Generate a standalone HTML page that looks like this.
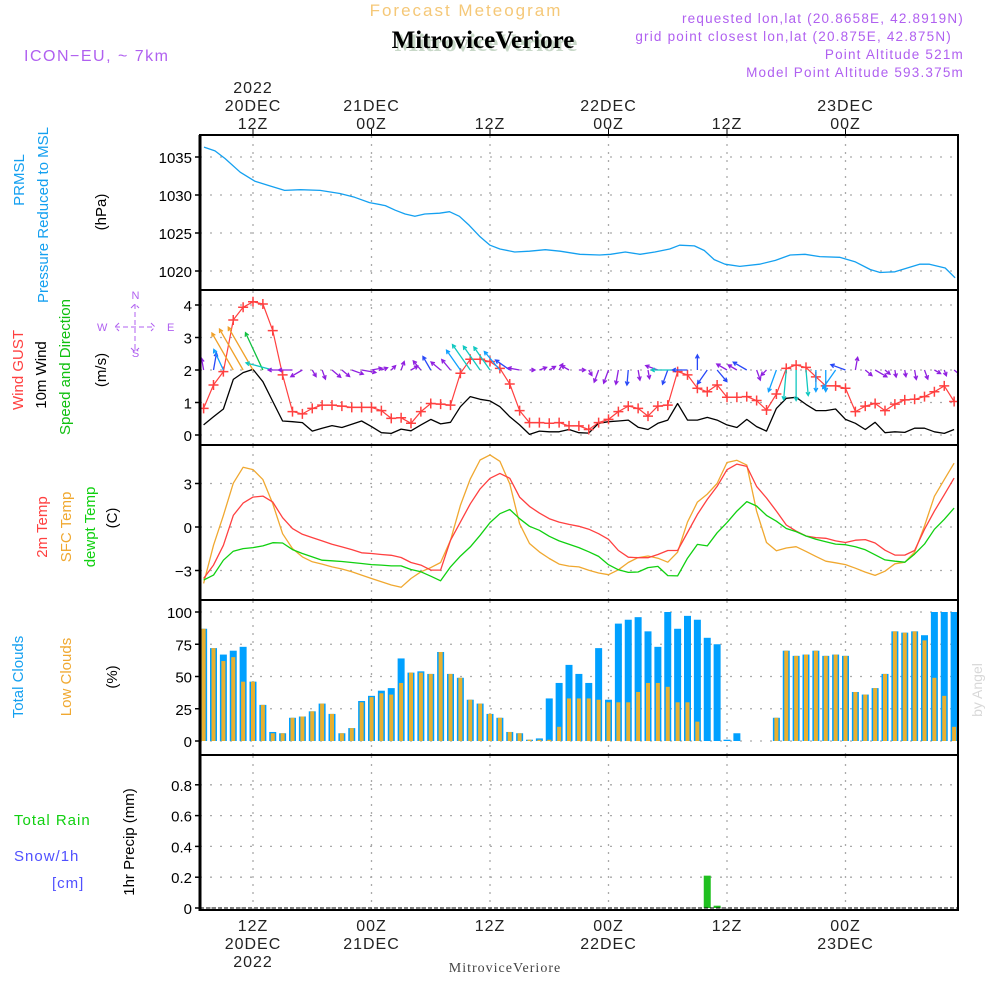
<!DOCTYPE html>
<html><head><meta charset="utf-8"><title>Forecast Meteogram MitroviceVeriore</title>
<style>
html,body{margin:0;padding:0;background:#fff;}
svg{display:block;font-family:"Liberation Sans",sans-serif;}
</style></head>
<body>
<svg id="chart" width="1000" height="1000" viewBox="0 0 1000 1000" xmlns="http://www.w3.org/2000/svg">
<defs>
<clipPath id="clipP"><rect x="200" y="136" width="758" height="154"/></clipPath>
<clipPath id="clipW"><rect x="200" y="291" width="758" height="154"/></clipPath>
<clipPath id="clipT"><rect x="200" y="446" width="758" height="154"/></clipPath>
<clipPath id="clipC"><rect x="200" y="601" width="758" height="154"/></clipPath>
<clipPath id="clipR"><rect x="200" y="756" width="758" height="154"/></clipPath>
</defs>
<g>
<text x="466" y="16" font-size="17" fill="#f5c878" text-anchor="middle" letter-spacing="2">Forecast Meteogram</text>
<text x="486" y="51" font-size="25" font-weight="bold" font-family="Liberation Serif, serif" fill="#c8d8c8" text-anchor="middle">MitroviceVeriore</text>
<text x="483" y="48" font-size="25" font-weight="bold" font-family="Liberation Serif, serif" fill="#000" text-anchor="middle">MitroviceVeriore</text>
<text x="24" y="61" font-size="16" fill="#b060f0" letter-spacing="1.5">ICON−EU, ~ 7km</text>
<text x="964" y="23" font-size="13.5" fill="#b060f0" text-anchor="end" letter-spacing="1.2">requested lon,lat (20.8658E, 42.8919N)</text>
<text x="952" y="41" font-size="13.5" fill="#b060f0" text-anchor="end" letter-spacing="1.2">grid point closest lon,lat (20.875E, 42.875N)</text>
<text x="964" y="59" font-size="13.5" fill="#b060f0" text-anchor="end" letter-spacing="1.2">Point Altitude 521m</text>
<text x="964" y="77" font-size="13.5" fill="#b060f0" text-anchor="end" letter-spacing="1.2">Model Point Altitude 593.375m</text>
</g>
<g id="grid"></g>
<g id="marks"></g>
<g id="frame"></g>
<g id="labels"></g>
</svg>
<script>
const hours = [];
for (let t = 7; t <= 83; t++) hours.push(t);

const presTimes = [7.04,8.15,9.16,10.7,12.2,13.7,15.2,16.8,18.8,20.8,22.3,23.8,25.4,26.4,27.4,28.4,29.4,30.9,31.9,32.9,33.9,35,36,37,38.5,40,41.6,43.1,45.1,47.1,48.2,49.7,51.2,52.7,54.2,55.2,56.7,57.7,58.7,59.8,61.3,63.3,64.9,66.4,67.9,69.4,71.4,73,74.5,75.5,77,78,79.5,80.5,82.1,83.1];
const presVals = [1036.3,1035.8,1034.8,1033,1031.8,1031.2,1030.6,1030.7,1030.6,1030.2,1029.7,1029,1028.6,1028,1027.5,1027.2,1027.5,1027.6,1027.8,1027.2,1026,1024.5,1023.4,1022.9,1022.5,1022.6,1022.8,1022.6,1022.2,1022.1,1022.2,1022.5,1022.2,1022.5,1022.9,1023.4,1023.3,1022.7,1021.5,1020.9,1020.6,1020.9,1021.4,1022.1,1022.2,1021.9,1021.8,1021.2,1020.2,1019.8,1019.9,1020.3,1020.9,1020.9,1020.4,1019.1];

const gustVals = [0.82,1.54,1.95,3.54,3.93,4.10,4.03,3.21,1.85,0.72,0.65,0.82,0.92,0.92,0.89,0.85,0.85,0.85,0.75,0.51,0.53,0.36,0.72,0.97,0.95,0.92,1.90,2.33,2.33,2.26,2.05,1.57,0.75,0.38,0.38,0.36,0.38,0.28,0.28,0.17,0.38,0.48,0.72,0.89,0.82,0.58,0.89,0.92,1.95,1.85,1.44,1.33,1.54,1.16,1.16,1.18,1.06,0.77,1.26,2.05,2.15,2.08,1.79,1.51,1.51,1.44,0.72,0.89,0.97,0.75,0.95,1.08,1.10,1.18,1.33,1.51,1.03];

const windVals = [0.31,0.56,0.80,1.71,1.92,2.02,1.64,1.03,0.43,0.41,0.38,0.12,0.21,0.29,0.23,0.33,0.43,0.26,0.07,0.05,0.18,0.13,0.31,0.48,0.34,0.39,0.87,1.18,1.10,1.05,0.87,0.56,0.31,0.02,0.12,0.10,0.10,0.17,0.07,0.06,0.36,0.41,0.43,0.46,0.24,0.17,0.36,0.46,0.97,0.46,0.46,0.54,0.46,0.31,0.23,0.48,0.26,0.12,0.82,1.13,1.16,0.94,0.75,0.75,0.80,0.48,0.36,0.17,0.39,0.07,0.10,0.08,0.21,0.21,0.10,0.05,0.17];

const windDir = [350,10,335,330,330,330,335,285,270,270,240,150,160,130,130,110,100,80,70,45,20,60,320,330,310,320,325,325,325,325,320,305,280,90,70,60,30,300,90,150,200,200,190,185,170,170,290,200,270,270,0,215,140,300,300,300,160,225,200,185,180,175,180,180,215,290,10,130,120,130,170,170,170,160,120,160,130];

const temp2m = [-3.55,-2.63,-1.26,0.8,1.65,2.06,2.13,1.72,0.64,-0.11,-0.5,-0.73,-0.96,-1.19,-1.37,-1.56,-1.78,-1.83,-1.9,-1.95,-2.1,-2.45,-2.63,-2.97,-2.97,-0.92,0.34,1.6,2.63,3.36,3.7,3.36,2.06,1.42,0.96,0.57,0.34,0.18,0.05,-0.15,-0.46,-0.85,-1.62,-2.08,-2.12,-2.12,-1.9,-1.62,-1.62,-0.38,0.87,1.9,2.8,3.95,4.34,4.18,2.8,2.0,1.1,0.14,-0.28,-0.62,-0.73,-0.78,-0.96,-1.07,-0.91,-0.87,-1.1,-1.6,-1.94,-1.94,-1.62,-0.16,1.1,2.23,3.37];

const tempSfc = [-3.89,-1.26,0.8,3.02,4.12,3.96,3.27,1.6,-0.46,-1.49,-2.06,-2.4,-2.56,-2.75,-2.9,-3.09,-3.32,-3.55,-3.78,-4.0,-4.16,-3.55,-3.09,-2.8,-2.45,-0.92,1.49,3.32,4.62,4.97,4.53,2.97,0.23,-1.14,-1.72,-2.17,-2.56,-2.7,-2.75,-2.98,-3.17,-3.29,-2.95,-2.45,-2.11,-2.0,-2.15,-2.43,-1.74,0.34,1.72,2.27,3.0,4.45,4.6,4.27,1.09,-1.07,-1.64,-1.45,-1.36,-1.68,-2.03,-2.36,-2.47,-2.59,-2.84,-3.11,-3.34,-3.05,-2.54,-2.43,-1.74,0.07,2.12,3.27,4.4];

const tempDew = [-3.66,-3.32,-2.29,-1.67,-1.49,-1.42,-1.3,-1.08,-1.1,-1.56,-1.83,-2.06,-2.29,-2.33,-2.38,-2.45,-2.52,-2.59,-2.63,-2.68,-2.68,-2.93,-3.09,-3.39,-3.71,-2.75,-2.01,-1.37,-0.57,0.3,0.92,1.21,0.57,0.05,-0.23,-0.64,-0.96,-1.19,-1.42,-1.71,-2.03,-2.6,-2.95,-3.13,-3.1,-2.8,-2.72,-3.35,-3.37,-2.15,-1.2,-1.3,-0.4,0.3,1.1,1.75,1.45,0.8,0.4,-0.1,-0.32,-0.62,-0.85,-1.02,-1.18,-1.22,-1.36,-1.57,-1.92,-2.27,-2.36,-2.43,-1.87,-1.18,-0.16,0.53,1.3];

const totalClouds = [87,72,67,70,73,46,28,7,6,18,19,23,29,21,6,10,31,35,39,41,64,53,54,52,69,52,49,32,29,21,18,7,6,1,2,33,45,59,52,45,72,32,91,94,96,85,73,100,87,97,94,80,75,1,6,0,0,0,18,70,66,67,70,66,67,66,38,36,41,52,85,84,85,82,100,100,100];
const lowClouds = [87,72,62,65,46,46,28,6,6,18,19,23,29,21,6,10,30,34,37,36,45,53,53,52,69,52,49,32,29,21,18,7,6,1,1,1,11,33,33,33,32,30,30,30,38,45,45,42,30,30,15,0,0,0,0,0,0,0,18,70,66,67,70,66,67,66,38,36,41,52,85,84,85,78,49,35,11];

const precipVals = new Array(77).fill(0);
precipVals[51] = 0.21;
precipVals[52] = 0.015;

const timeTicks = [12,24,36,48,60,72];
const presTicks = [1020,1025,1030,1035];
const windTicks = [0,1,2,3,4];
const tempTicks = [-3,0,3];
const cloudTicks = [0,25,50,75,100];
const precipTicks = [0,0.2,0.4,0.6,0.8];
const topDayLabels = [["2022","20DEC","12Z"],["","21DEC","00Z"],["","","12Z"],["","22DEC","00Z"],["","","12Z"],["","23DEC","00Z"]];
const bottomDayLabels = [["12Z","20DEC","2022"],["00Z","21DEC",""],["12Z","",""],["00Z","22DEC",""],["12Z","",""],["00Z","23DEC",""]];

const X0 = 200, X1 = 958;
const xT = t => 253 + (t - 12) * 9.875;
const yP = v => 271 - (v - 1020) * 7.6;
const yW = v => 435 - v * 32.5;
const yTe = v => 527 - v * 14.5;
const yC = v => 741 - v * 1.29;
const yR = v => 908 - v * 154;

const NS = "http://www.w3.org/2000/svg";
function mk(tag, attrs, parent) {
  const e = document.createElementNS(NS, tag);
  for (const k in attrs) e.setAttribute(k, attrs[k]);
  parent.appendChild(e);
  return e;
}
const grid = document.getElementById("grid");
const marks = document.getElementById("marks");
const frame = document.getElementById("frame");
const labels = document.getElementById("labels");

const panels = [
  {top:136, bot:290, ticks:presTicks, f:yP, fmt:v=>String(v), name:"pressure"},
  {top:291, bot:445, ticks:windTicks, f:yW, fmt:v=>String(v), name:"wind"},
  {top:446, bot:600, ticks:tempTicks, f:yTe, fmt:v=>v<0?"−"+(-v):String(v), name:"temperature"},
  {top:601, bot:755, ticks:cloudTicks, f:yC, fmt:v=>String(v), name:"clouds"},
  {top:756, bot:910, ticks:precipTicks, f:yR, fmt:v=>v===0?"0":v.toFixed(1), name:"precip"}
];

panels.forEach(p => {
  timeTicks.forEach(t => {
    const l = mk("line", {x1:xT(t), x2:xT(t), y1:p.top, y2:p.bot, stroke:"#aaa", "stroke-width":1.3, "stroke-dasharray":"2,6"}, grid);
    
    
  });
  p.ticks.forEach(v => {
    const y = p.f(v);
    const l = mk("line", {x1:X0, x2:X1, y1:y, y2:y, stroke:"#aaa", "stroke-width":1.3, "stroke-dasharray":"2,8"}, grid);
    
    
    const tk = mk("line", {x1:X0-5, x2:X0, y1:y, y2:y, stroke:"#000", "stroke-width":1.5}, frame);
    
    
    const tx = mk("text", {x:X0-8, y:y+6, "font-size":15, "text-anchor":"end", fill:"#000"}, labels);
    tx.textContent = p.fmt(v);
    
    
  });
  const r = mk("rect", {x:X0, y:p.top-1, width:X1-X0, height:p.bot-p.top+1, fill:"none", stroke:"#000", "stroke-width":2}, frame);
  
  
});
const lb = mk("line", {x1:X0, x2:X0, y1:135, y2:911, stroke:"#000", "stroke-width":3}, frame);



timeTicks.forEach((t, i) => {
  const x = xT(t);
  const tt = mk("line", {x1:x, x2:x, y1:129, y2:135, stroke:"#000", "stroke-width":1}, frame);
  
  
  topDayLabels[i].forEach((s, j) => {
    if (!s) return;
    const e = mk("text", {x:x, y:93 + j*18, "font-size":16, "text-anchor":"middle", fill:"#222", "letter-spacing":1}, labels);
    e.textContent = s;
    
    
  });
  bottomDayLabels[i].forEach((s, j) => {
    if (!s) return;
    const e = mk("text", {x:x, y:931 + j*18, "font-size":16, "text-anchor":"middle", fill:"#222", "letter-spacing":1}, labels);
    e.textContent = s;
    
    
  });
});

function poly(ts, vs, f, color, clip, name, w) {
  const pts = ts.map((t, i) => xT(t).toFixed(1) + "," + f(vs[i]).toFixed(1)).join(" ");
  const e = mk("polyline", {points:pts, fill:"none", stroke:color, "stroke-width":w||1.3, "stroke-linejoin":"round", "clip-path":"url(#"+clip+")"}, marks);
  
  
  return e;
}

poly(presTimes, presVals, yP, "#14a0f0", "clipP", "pressure-line", 1.3);

poly(hours, gustVals, yW, "#ff4040", "clipW", "wind-gust-line", 1.2);
poly(hours, windVals, yW, "#000", "clipW", "wind-speed-line", 1.3);
const gg = mk("g", {"clip-path":"url(#clipW)"}, marks);


hours.forEach((t, i) => {
  const x = xT(t), y = yW(gustVals[i]);
  const m = mk("path", {d:`M${x-5},${y}H${x+5}M${x},${y-5}V${y+5}`, stroke:"#ff4040", "stroke-width":1.5}, gg);
  
  
});

function windColor(s) {
  if (s < 0.45) return "#9020e0";
  if (s < 0.7) return "#2848f8";
  if (s < 0.9) return "#10a0ff";
  if (s < 1.25) return "#10c8c0";
  if (s < 1.65) return "#10c040";
  return "#f0a028";
}
const ga = mk("g", {"clip-path":"url(#clipW)"}, marks);


hours.forEach((t, i) => {
  const s = windVals[i], len = 5 + 22 * s, a = windDir[i] * Math.PI / 180;
  const x0 = xT(t), y0 = yW(2);
  const x1 = x0 + Math.sin(a) * len, y1 = y0 - Math.cos(a) * len;
  const h = 4, b1 = a + Math.PI - 0.5, b2 = a + Math.PI + 0.5;
  const d = `M${x0},${y0}L${x1},${y1}M${x1+Math.sin(b1)*h},${y1-Math.cos(b1)*h}L${x1},${y1}L${x1+Math.sin(b2)*h},${y1-Math.cos(b2)*h}`;
  const e = mk("path", {d:d, stroke:windColor(s), "stroke-width":1.3, fill:"none"}, ga);
  
  
});

poly(hours, tempSfc, yTe, "#f0a830", "clipT", "sfc-temp-line", 1.3);
poly(hours, temp2m, yTe, "#ff4040", "clipT", "2m-temp-line", 1.3);
poly(hours, tempDew, yTe, "#10d010", "clipT", "dewpoint-line", 1.3);

const gc = mk("g", {"clip-path":"url(#clipC)"}, marks);


hours.forEach((t, i) => {
  const x = xT(t);
  const b = mk("rect", {x:x-3.5, y:yC(totalClouds[i]), width:7, height:yC(0)-yC(totalClouds[i]), fill:"#00a0ff"}, gc);
  
  
  const o = mk("rect", {x:x-2, y:yC(lowClouds[i]), width:4, height:yC(0)-yC(lowClouds[i]), fill:"#e8b030"}, gc);
  
  
});

const gr = mk("g", {"clip-path":"url(#clipR)"}, marks);


hours.forEach((t, i) => {
  if (precipVals[i] <= 0) return;
  const x = xT(t);
  const b = mk("rect", {x:x-3.5, y:yR(precipVals[i]), width:7, height:yR(0)-yR(precipVals[i]), fill:"#20c020"}, gr);
  
  
});
const zl = mk("line", {x1:X0, x2:X1, y1:yR(0), y2:yR(0), stroke:"#000", "stroke-width":1, "stroke-dasharray":"4,2"}, marks);



function rtext(x, y, s, color, name, size) {
  const e = mk("text", {x:0, y:0, transform:`translate(${x},${y}) rotate(-90)`, "font-size":size||15, fill:color, "text-anchor":"middle"}, labels);
  e.textContent = s;
  
  
}
function htext(x, y, s, color, name, size, anchor) {
  const e = mk("text", {x:x, y:y, "font-size":size||15, fill:color, "text-anchor":anchor||"start", "letter-spacing":1}, labels);
  e.textContent = s;
  
  
}
rtext(24, 180, "PRMSL", "#14a0f0", "prmsl-label");
rtext(48, 215, "Pressure Reduced to MSL", "#14a0f0", "pressure-axis-title");
rtext(106, 212, "(hPa)", "#000", "pressure-unit");
rtext(23, 370, "Wind GUST", "#ff4040", "gust-axis-title");
rtext(46, 375, "10m Wind", "#000", "wind-axis-title");
rtext(70, 367, "Speed and Direction", "#10c010", "wind-direction-title");
rtext(106, 370, "(m/s)", "#000", "wind-unit");
htext(97, 331, "W", "#b060f0", "compass-w", 11, "start");
htext(167, 331, "E", "#b060f0", "compass-e", 11, "start");
htext(136, 299, "N", "#b060f0", "compass-n", 11, "middle");
htext(136, 357, "S", "#b060f0", "compass-s", 11, "middle");
const cp = mk("path", {d:"M115,327H155M135,304V352M119,323L115,327L119,331M151,323L155,327L151,331M131,308L135,304L139,308M131,348L135,352L139,348", stroke:"#b060f0", "stroke-width":1, fill:"none", "stroke-dasharray":"5,3"}, labels);


rtext(47, 527, "2m Temp", "#ff4040", "2m-temp-title");
rtext(71, 527, "SFC Temp", "#f0a830", "sfc-temp-title");
rtext(95, 527, "dewpt Temp", "#10d010", "dewpt-temp-title");
rtext(117, 518, "(C)", "#000", "temp-unit");
rtext(23, 677, "Total Clouds", "#14a0f0", "total-clouds-title");
rtext(71, 677, "Low Clouds", "#f0a830", "low-clouds-title");
rtext(117, 677, "(%)", "#000", "clouds-unit");
htext(14, 825, "Total  Rain", "#10d010", "rain-legend", 15);
htext(14, 861, "Snow/1h", "#5050ff", "snow-legend", 15);
htext(52, 888, "[cm]", "#5050ff", "cm-legend", 15);
rtext(134, 842, "1hr Precip (mm)", "#000", "precip-axis-title");
const bt = mk("text", {x:505, y:972, "font-size":14, "text-anchor":"middle", fill:"#444", "font-family":"Liberation Serif, serif", "letter-spacing":1}, labels);
bt.textContent = "MitroviceVeriore";


rtext(982, 690, "by Angel", "#d8d8d8", "watermark", 14);
</script>
</body></html>
